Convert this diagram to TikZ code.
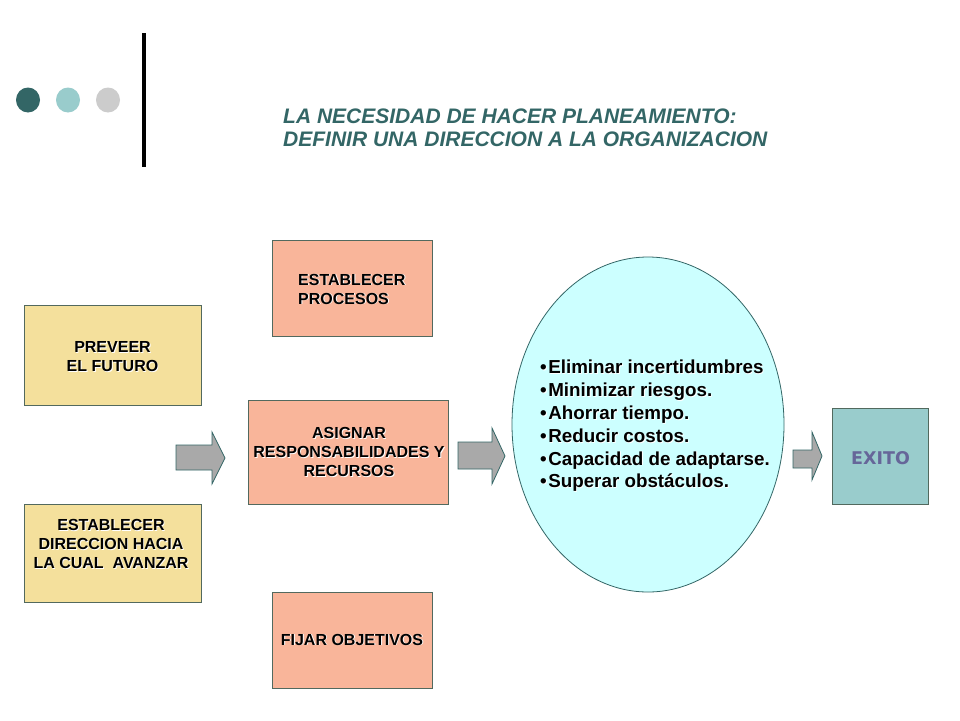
\documentclass[tikz,border=0pt]{standalone}
\usepackage{fontspec}
\setmainfont{Liberation Sans}
\newfontfamily\exitofont{DejaVu Sans}
\usetikzlibrary{shapes.geometric}
\definecolor{teal1}{HTML}{336666}
\definecolor{teal2}{HTML}{99CCCC}
\definecolor{grey3}{HTML}{CCCCCC}
\definecolor{yelbox}{HTML}{F4E09C}
\definecolor{salbox}{HTML}{F9B59A}
\definecolor{ellfill}{HTML}{CCFFFF}
\definecolor{boxline}{HTML}{52695E}
\definecolor{arrfill}{HTML}{A9A9A9}
\definecolor{exitotxt}{HTML}{666699}
\newcommand\shd[1]{\leavevmode\rlap{\kern0.9pt\raisebox{-0.9pt}{\color{white}#1}}#1}
\newcommand\bul{\textbullet\kern1.5pt}
\tikzset{
  box/.style={draw=boxline, line width=0.8pt, inner sep=0pt},
  boxtext/.style={font=\bfseries\fontsize{16}{19}\selectfont, align=center, text=black},
  blockarrow/.style={draw=teal1, fill=arrfill, line width=0.8pt, line join=miter},
}
\begin{document}
\begin{tikzpicture}[x=1pt,y=-1pt]
\useasboundingbox (0,0) rectangle (960,720);
\fill[white] (0,0) rectangle (960,720);
% decoration
\fill[teal1] (28,100) ellipse (12 and 12.5);
\fill[teal2] (68,100) ellipse (12 and 12.5);
\fill[grey3] (108,100) ellipse (12 and 12.5);
\draw[line width=4pt] (144,33) -- (144,167);
% title
\node[anchor=base west, text=teal1, font=\bfseries\itshape\fontsize{21}{23.5}\selectfont, align=left, inner sep=0pt] (title) at (283,146.5)
  {LA NECESIDAD DE HACER PLANEAMIENTO:\\DEFINIR UNA DIRECCION A LA ORGANIZACION};
% boxes
\path[box, fill=salbox] (272,240) rectangle (432,336);
\node[boxtext, align=left, anchor=base west, inner sep=0pt] (procesos) at (298,304) {\shd{ESTABLECER}\\\shd{PROCESOS}};
\path[box, fill=yelbox] (24,305) rectangle (201,405);
\node[boxtext, anchor=center] (preveer) at (112.5,357) {\shd{PREVEER}\\\shd{EL FUTURO}};
\path[box, fill=yelbox] (24,504) rectangle (201,602);
\node[boxtext, anchor=center] (direccion) at (111,544.5) {\shd{ESTABLECER}\\\shd{DIRECCION HACIA}\\\shd{LA CUAL\ \ AVANZAR}};
\path[box, fill=salbox] (248,400) rectangle (448,504);
\node[boxtext, anchor=center] (asignar) at (349,452.5) {\shd{ASIGNAR}\\\shd{RESPONSABILIDADES Y}\\\shd{RECURSOS}};
\path[box, fill=salbox] (272,592) rectangle (432,688);
\node[boxtext, anchor=center] (fijar) at (352,640) {\shd{FIJAR OBJETIVOS}};
% ellipse
\draw[draw=teal1, fill=ellfill, line width=0.8pt] (648,424.5) ellipse (136 and 167.5);
\node[anchor=north west, align=left, inner sep=0pt, font=\bfseries\fontsize{18.8}{22.8}\selectfont] (beneficios) at (540,360)
  {\shd{\bul Eliminar incertidumbres}\\
   \shd{\bul Minimizar riesgos.}\\
   \shd{\bul Ahorrar tiempo.}\\
   \shd{\bul Reducir costos.}\\
   \shd{\bul Capacidad de adaptarse.}\\
   \shd{\bul Superar obstáculos.}};
% exito
\path[draw=boxline, fill=teal2, line width=0.8pt] (832,408) rectangle (928,504);
\node[text=exitotxt, font=\exitofont\bfseries\fontsize{17.5}{20}\selectfont] (exito) at (880.5,458) {EXITO};
% block arrows
\draw[blockarrow] (176,445) -- (212,445) -- (212,432) -- (225,458) -- (212,484) -- (212,470) -- (176,470) -- cycle;
\draw[blockarrow] (458,442) -- (492,442) -- (492,428) -- (505,456) -- (492,484) -- (492,469) -- (458,469) -- cycle;
\draw[blockarrow] (793,450) -- (812,450) -- (812,432) -- (822,456) -- (812,480) -- (812,468) -- (793,468) -- cycle;
\end{tikzpicture}
\end{document}
